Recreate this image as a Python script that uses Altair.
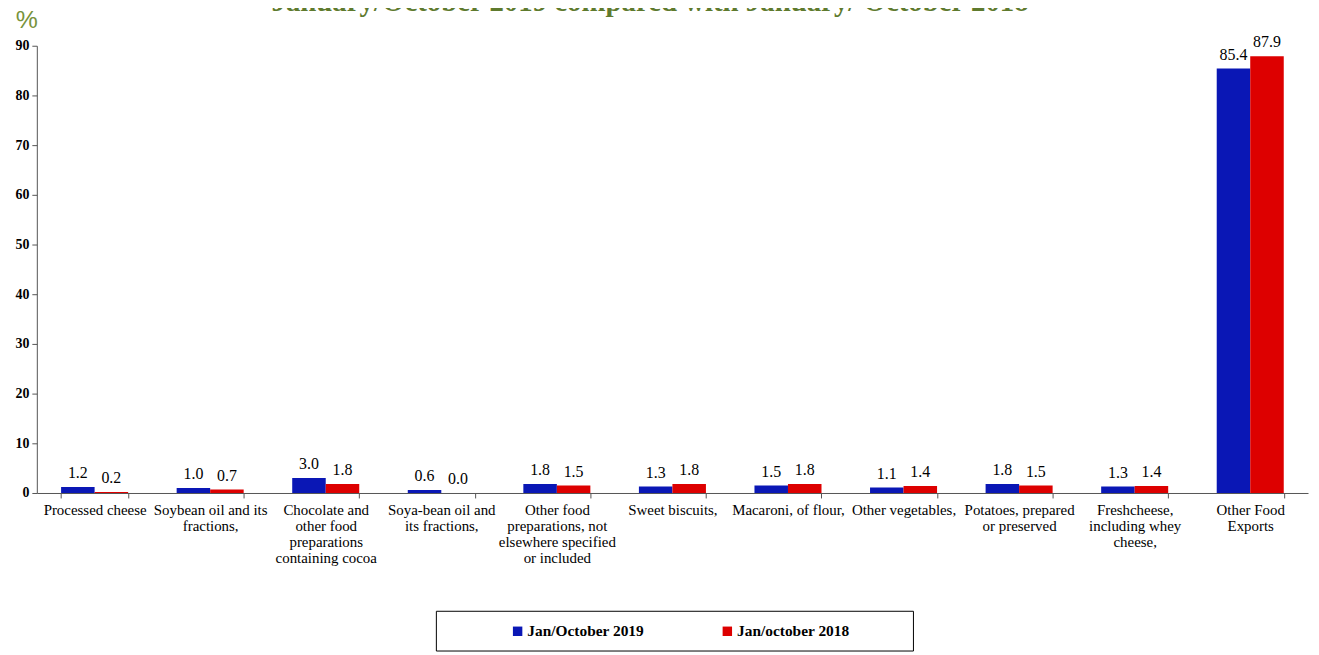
import altair as alt
import pandas as pd

categories = [
    "Processed cheese",
    "Soybean oil and its|fractions,",
    "Chocolate and|other food|preparations|containing cocoa",
    "Soya-bean oil and|its fractions,",
    "Other food|preparations, not|elsewhere specified|or included",
    "Sweet biscuits,",
    "Macaroni, of flour,",
    "Other vegetables,",
    "Potatoes, prepared|or preserved",
    "Freshcheese,|including whey|cheese,",
    "Other Food|Exports",
]
series_names = ["Jan/October 2019", "Jan/october  2018"]
values_2019 = [1.2, 1.0, 3.0, 0.6, 1.8, 1.3, 1.5, 1.1, 1.8, 1.3, 85.4]
values_2018 = [0.2, 0.7, 1.8, 0.0, 1.5, 1.8, 1.8, 1.4, 1.5, 1.4, 87.9]
colors = ["#0A17B5", "#DD0000"]
title_text = "January/October 2019 compared with January/ October 2018"
y_ticks = [0, 10, 20, 30, 40, 50, 60, 70, 80, 90]

rows = []
for c, v1, v2 in zip(categories, values_2019, values_2018):
    rows.append({"cat": c, "series": series_names[0], "value": v1})
    rows.append({"cat": c, "series": series_names[1], "value": v2})
df = pd.DataFrame(rows)

SERIF = "Liberation Serif"

x_enc = alt.X(
    "cat:N",
    sort=categories,
    scale=alt.Scale(paddingInner=0.42, paddingOuter=0.21),
    axis=alt.Axis(
        title=None,
        labelAngle=0,
        labelExpr="split(datum.label, '|')",
        labelFont=SERIF,
        labelFontSize=15,
        labelColor="black",
        labelLineHeight=16,
        labelPadding=5,
        labelBaseline="top",
        tickBand="extent",
        tickSize=5,
        tickColor="#555555",
        domainColor="#555555",
        labelLimit=200,
        grid=False,
    ),
)

base = alt.Chart(df).encode(
    x=x_enc,
    xOffset=alt.XOffset("series:N", sort=series_names, scale=alt.Scale(paddingInner=0, paddingOuter=0)),
)

bars = base.mark_bar().encode(
    y=alt.Y(
        "value:Q",
        scale=alt.Scale(domain=[0, 90], nice=False),
        axis=alt.Axis(
            title=None,
            values=y_ticks,
            labelFont=SERIF,
            labelFontSize=14,
            labelFontWeight="bold",
            labelColor="black",
            labelPadding=3,
            tickSize=5,
            tickColor="#555555",
            domainColor="#555555",
            grid=False,
        ),
    ),
    color=alt.Color(
        "series:N",
        sort=series_names,
        scale=alt.Scale(domain=series_names, range=colors),
        legend=alt.Legend(
            title=None,
            orient="none",
            legendX=476,
            legendY=581,
            direction="horizontal",
            columns=2,
            columnPadding=75,
            symbolType="square",
            symbolSize=90,
            symbolStrokeWidth=0,
            labelFont=SERIF,
            labelFontSize=15.5,
            labelFontWeight="bold",
            labelColor="black",
            labelOffset=2,
            padding=0,
        ),
    ),
)

labels = base.mark_text(
    baseline="bottom", dy=-6, font=SERIF, fontSize=16, color="black"
).encode(
    y="value:Q",
    text=alt.Text("value:Q", format=".1f"),
)

one = alt.Data(values=[{"t": title_text, "p": "%"}])

title = alt.Chart(one).mark_text(
    font=SERIF, fontSize=29, fontWeight="bold", color="#5E7A2E", baseline="alphabetic", align="center"
).encode(x=alt.value(617), y=alt.value(-35), text="t:N")

percent = alt.Chart(one).mark_text(
    font="Liberation Sans", fontSize=25, color="#77933C", baseline="alphabetic", align="center"
).encode(x=alt.value(-10), y=alt.value(-18), text="p:N")

box = alt.Chart(one).mark_rect(filled=False, stroke="black", strokeWidth=1).encode(
    x=alt.value(402), x2=alt.value(882), y=alt.value(569), y2=alt.value(609)
)

chart = alt.layer(box, bars, labels, title, percent).properties(
    width=1279,
    height=450,
    padding={"left": 29, "top": 36, "right": 3, "bottom": 158},
    autosize=alt.AutoSizeParams(type="none"),
    background="white",
).configure_view(stroke=None)

chart.save("out.html", embed_options={"renderer": "svg", "actions": False})
